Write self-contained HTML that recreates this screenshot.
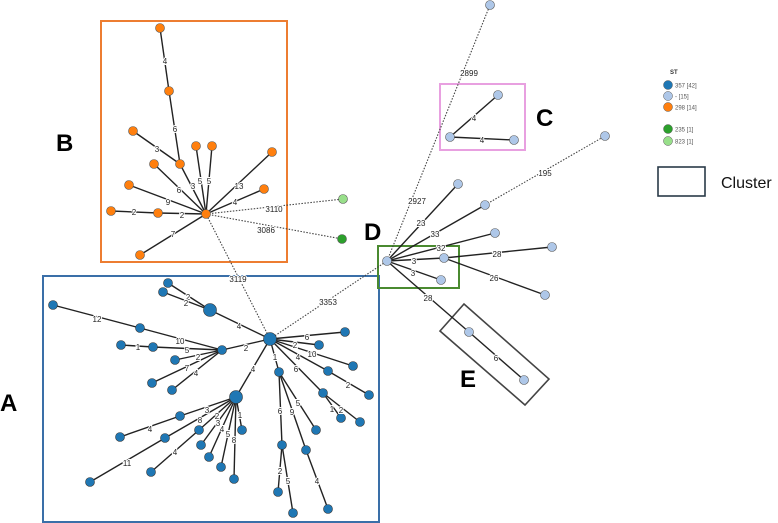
<!DOCTYPE html>
<html><head><meta charset="utf-8"><style>
html,body{margin:0;padding:0;background:#fff;}
svg{display:block;}
text{font-family:"Liberation Sans",sans-serif;}
.l{font-size:8px;fill:#222;text-anchor:middle;dominant-baseline:middle;stroke:#fff;stroke-width:2px;paint-order:stroke;}
.e{stroke:#222;stroke-width:1.4;}
.d{stroke:#444;stroke-width:1.1;stroke-dasharray:1.5 1.5;}
.b{fill:#1f77b4;stroke:#333;stroke-width:0.6;}
.lb{fill:#aec7e8;stroke:#555;stroke-width:0.6;}
.o{fill:#ff7f0e;stroke:#555;stroke-width:0.6;}
.big{font-size:24px;font-weight:bold;fill:#000;}
</style></head><body>
<svg width="778" height="523" viewBox="0 0 778 523">
<!-- boxes -->
<rect x="101" y="21" width="186" height="241" fill="none" stroke="#ed7d31" stroke-width="2"/>
<rect x="43" y="276" width="336" height="246" fill="none" stroke="#3a6fa8" stroke-width="2"/>
<rect x="440" y="84" width="85" height="66" fill="none" stroke="#e8a0e0" stroke-width="2"/>
<rect x="378" y="246" width="81" height="42" fill="none" stroke="#4a8a30" stroke-width="2"/>
<polygon points="440,331 464,304 549,379 525,405" fill="none" stroke="#444" stroke-width="1.6"/>

<!-- dotted -->
<line class="d" x1="270" y1="339" x2="206" y2="214"/>
<line class="d" x1="270" y1="339" x2="387" y2="261"/>
<line class="d" x1="206" y1="214" x2="343" y2="199"/>
<line class="d" x1="206" y1="214" x2="342" y2="239"/>
<line class="d" x1="387" y1="261" x2="490" y2="5"/>
<line class="d" x1="485" y1="205" x2="605" y2="136"/>

<!-- A edges -->
<g class="e">
<line x1="270" y1="339" x2="210" y2="310"/><line x1="210" y1="310" x2="168" y2="283"/><line x1="210" y1="310" x2="163" y2="292"/>
<line x1="270" y1="339" x2="222" y2="350"/><line x1="222" y1="350" x2="140" y2="328"/><line x1="140" y1="328" x2="53" y2="305"/>
<line x1="222" y1="350" x2="153" y2="347"/><line x1="153" y1="347" x2="121" y2="345"/>
<line x1="222" y1="350" x2="175" y2="360"/><line x1="222" y1="350" x2="152" y2="383"/><line x1="222" y1="350" x2="172" y2="390"/>
<line x1="270" y1="339" x2="345" y2="332"/><line x1="270" y1="339" x2="319" y2="345"/><line x1="270" y1="339" x2="353" y2="366"/>
<line x1="270" y1="339" x2="328" y2="371"/><line x1="328" y1="371" x2="369" y2="395"/>
<line x1="270" y1="339" x2="323" y2="393"/><line x1="323" y1="393" x2="341" y2="418"/><line x1="323" y1="393" x2="360" y2="422"/>
<line x1="270" y1="339" x2="279" y2="372"/><line x1="279" y1="372" x2="282" y2="445"/><line x1="282" y1="445" x2="278" y2="492"/><line x1="282" y1="445" x2="293" y2="513"/>
<line x1="279" y1="372" x2="306" y2="450"/><line x1="306" y1="450" x2="328" y2="509"/><line x1="279" y1="372" x2="316" y2="430"/>
<line x1="270" y1="339" x2="236" y2="397"/>
<line x1="236" y1="397" x2="180" y2="416"/><line x1="180" y1="416" x2="120" y2="437"/>
<line x1="236" y1="397" x2="165" y2="438"/><line x1="165" y1="438" x2="90" y2="482"/>
<line x1="236" y1="397" x2="199" y2="430"/><line x1="199" y1="430" x2="151" y2="472"/>
<line x1="236" y1="397" x2="201" y2="445"/><line x1="236" y1="397" x2="209" y2="457"/><line x1="236" y1="397" x2="221" y2="467"/>
<line x1="236" y1="397" x2="234" y2="479"/><line x1="236" y1="397" x2="242" y2="430"/>
<!-- B edges -->
<line x1="160" y1="28" x2="169" y2="91"/><line x1="169" y1="91" x2="180" y2="164"/><line x1="133" y1="131" x2="180" y2="164"/>
<line x1="180" y1="164" x2="206" y2="214"/><line x1="196" y1="146" x2="206" y2="214"/><line x1="212" y1="146" x2="206" y2="214"/>
<line x1="272" y1="152" x2="206" y2="214"/><line x1="264" y1="189" x2="206" y2="214"/><line x1="154" y1="164" x2="206" y2="214"/>
<line x1="129" y1="185" x2="206" y2="214"/><line x1="111" y1="211" x2="158" y2="213"/><line x1="158" y1="213" x2="206" y2="214"/>
<line x1="140" y1="255" x2="206" y2="214"/>
<!-- C, D, E -->
<line x1="450" y1="137" x2="498" y2="95"/><line x1="450" y1="137" x2="514" y2="140"/>
<line x1="387" y1="261" x2="458" y2="184"/><line x1="387" y1="261" x2="485" y2="205"/><line x1="387" y1="261" x2="495" y2="233"/>
<line x1="387" y1="261" x2="444" y2="258"/><line x1="444" y1="258" x2="552" y2="247"/><line x1="444" y1="258" x2="545" y2="295"/>
<line x1="387" y1="261" x2="441" y2="280"/><line x1="387" y1="261" x2="469" y2="332"/><line x1="469" y1="332" x2="524" y2="380"/>
</g>

<!-- nodes -->
<g class="b">
<circle cx="270" cy="339" r="6.5"/><circle cx="210" cy="310" r="6.5"/><circle cx="236" cy="397" r="6.5"/><circle cx="222" cy="350" r="4.5"/>
<circle cx="168" cy="283" r="4.5"/><circle cx="163" cy="292" r="4.5"/><circle cx="140" cy="328" r="4.5"/><circle cx="53" cy="305" r="4.5"/>
<circle cx="153" cy="347" r="4.5"/><circle cx="121" cy="345" r="4.5"/><circle cx="175" cy="360" r="4.5"/><circle cx="152" cy="383" r="4.5"/>
<circle cx="172" cy="390" r="4.5"/><circle cx="345" cy="332" r="4.5"/><circle cx="319" cy="345" r="4.5"/><circle cx="353" cy="366" r="4.5"/>
<circle cx="328" cy="371" r="4.5"/><circle cx="369" cy="395" r="4.5"/><circle cx="323" cy="393" r="4.5"/><circle cx="341" cy="418" r="4.5"/>
<circle cx="360" cy="422" r="4.5"/><circle cx="279" cy="372" r="4.5"/><circle cx="282" cy="445" r="4.5"/><circle cx="278" cy="492" r="4.5"/>
<circle cx="293" cy="513" r="4.5"/><circle cx="306" cy="450" r="4.5"/><circle cx="328" cy="509" r="4.5"/><circle cx="316" cy="430" r="4.5"/>
<circle cx="180" cy="416" r="4.5"/><circle cx="120" cy="437" r="4.5"/><circle cx="165" cy="438" r="4.5"/><circle cx="90" cy="482" r="4.5"/>
<circle cx="199" cy="430" r="4.5"/><circle cx="151" cy="472" r="4.5"/><circle cx="201" cy="445" r="4.5"/><circle cx="209" cy="457" r="4.5"/>
<circle cx="221" cy="467" r="4.5"/><circle cx="234" cy="479" r="4.5"/><circle cx="242" cy="430" r="4.5"/>
</g>
<g class="o">
<circle cx="206" cy="214" r="4.5"/><circle cx="160" cy="28" r="4.5"/><circle cx="169" cy="91" r="4.5"/><circle cx="180" cy="164" r="4.5"/>
<circle cx="133" cy="131" r="4.5"/><circle cx="196" cy="146" r="4.5"/><circle cx="212" cy="146" r="4.5"/><circle cx="272" cy="152" r="4.5"/>
<circle cx="264" cy="189" r="4.5"/><circle cx="154" cy="164" r="4.5"/><circle cx="129" cy="185" r="4.5"/><circle cx="111" cy="211" r="4.5"/>
<circle cx="158" cy="213" r="4.5"/><circle cx="140" cy="255" r="4.5"/>
</g>
<circle cx="343" cy="199" r="4.5" fill="#98df8a" stroke="#555" stroke-width="0.6"/>
<circle cx="342" cy="239" r="4.5" fill="#2ca02c" stroke="#555" stroke-width="0.6"/>
<g class="lb">
<circle cx="490" cy="5" r="4.5"/><circle cx="450" cy="137" r="4.5"/><circle cx="498" cy="95" r="4.5"/><circle cx="514" cy="140" r="4.5"/>
<circle cx="605" cy="136" r="4.5"/><circle cx="387" cy="261" r="4.5"/><circle cx="458" cy="184" r="4.5"/><circle cx="485" cy="205" r="4.5"/>
<circle cx="495" cy="233" r="4.5"/><circle cx="444" cy="258" r="4.5"/><circle cx="552" cy="247" r="4.5"/><circle cx="545" cy="295" r="4.5"/>
<circle cx="441" cy="280" r="4.5"/><circle cx="469" cy="332" r="4.5"/><circle cx="524" cy="380" r="4.5"/>
</g>

<!-- edge labels -->
<g class="l">
<text x="239" y="327">4</text><text x="188" y="298">2</text><text x="186" y="304">2</text><text x="246" y="349">2</text>
<text x="180" y="342">10</text><text x="97" y="320">12</text><text x="187" y="351">5</text><text x="138" y="348">1</text>
<text x="198" y="358">2</text><text x="187" y="369">7</text><text x="196" y="374">4</text>
<text x="307" y="338">6</text><text x="295" y="346">2</text><text x="312" y="355">10</text><text x="298" y="358">4</text>
<text x="348" y="386">2</text><text x="296" y="370">6</text><text x="332" y="410">1</text><text x="341" y="411">2</text>
<text x="275" y="358">1</text><text x="280" y="412">6</text><text x="280" y="472">2</text><text x="288" y="482">5</text>
<text x="292" y="413">9</text><text x="317" y="482">4</text><text x="298" y="404">5</text><text x="253" y="370">4</text>
<text x="207" y="411">3</text><text x="150" y="430">4</text><text x="200" y="421">8</text><text x="127" y="464">11</text>
<text x="217" y="417">2</text><text x="175" y="453">4</text><text x="218" y="424">3</text><text x="222" y="430">4</text>
<text x="228" y="435">5</text><text x="234" y="441">8</text><text x="240" y="416">1</text>
<text x="238" y="280">3119</text><text x="328" y="303">3353</text>
<text x="165" y="62">4</text><text x="175" y="130">6</text><text x="157" y="150">3</text><text x="193" y="187">3</text>
<text x="200" y="182">5</text><text x="209" y="182">5</text><text x="239" y="187">13</text><text x="235" y="203">4</text>
<text x="179" y="191">6</text><text x="168" y="203">9</text><text x="134" y="213">2</text><text x="182" y="216">2</text>
<text x="173" y="235">7</text>
<text x="274" y="210">3110</text><text x="266" y="231">3086</text>
<text x="469" y="74">2899</text><text x="417" y="202">2927</text><text x="545" y="174">195</text>
<text x="474" y="119">4</text><text x="482" y="141">4</text>
<text x="421" y="224">23</text><text x="435" y="235">33</text><text x="441" y="249">32</text><text x="414" y="262">3</text>
<text x="497" y="255">28</text><text x="494" y="279">26</text><text x="413" y="274">3</text><text x="428" y="299">28</text>
<text x="496" y="359">6</text>
</g>

<!-- group letters -->
<text class="big" x="0" y="411">A</text>
<text class="big" x="56" y="151">B</text>
<text class="big" x="536" y="126">C</text>
<text class="big" x="364" y="240">D</text>
<text class="big" x="460" y="387">E</text>

<!-- legend -->
<text x="670" y="74" font-size="6" font-weight="bold" fill="#333">ST</text>
<circle cx="668" cy="85" r="4.5" fill="#1f77b4" stroke="#555" stroke-width="0.5"/><text x="675" y="87.5" font-size="6" fill="#555">357 [42]</text>
<circle cx="668" cy="96" r="4.5" fill="#aec7e8" stroke="#555" stroke-width="0.5"/><text x="675" y="98.5" font-size="6" fill="#555">- [15]</text>
<circle cx="668" cy="107" r="4.5" fill="#ff7f0e" stroke="#555" stroke-width="0.5"/><text x="675" y="109.5" font-size="6" fill="#555">298 [14]</text>
<circle cx="668" cy="129" r="4.5" fill="#2ca02c" stroke="#555" stroke-width="0.5"/><text x="675" y="131.5" font-size="6" fill="#555">235 [1]</text>
<circle cx="668" cy="141" r="4.5" fill="#98df8a" stroke="#555" stroke-width="0.5"/><text x="675" y="143.5" font-size="6" fill="#555">823 [1]</text>
<rect x="658" y="167" width="47" height="29" fill="none" stroke="#2a3a48" stroke-width="1.6"/>
<text x="721" y="188" font-size="16" fill="#111">Cluster</text>
</svg>
</body></html>
